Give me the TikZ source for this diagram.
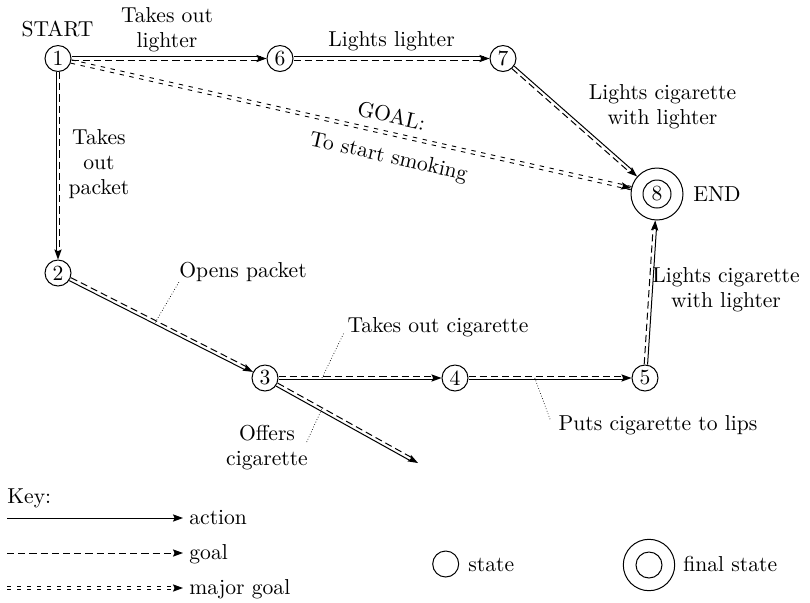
\documentclass[tikz,border=0pt]{standalone}
\usetikzlibrary{arrows.meta,calc}

\tikzset{
  state/.style={circle, draw, line width=0.5pt, minimum size=13pt, inner sep=0pt},
  lbl/.style={inner sep=0pt, align=center},
  actionln/.style={line width=0.5pt},
  goalln/.style={line width=0.5pt, dash pattern=on 3.6pt off 2pt},
  majorln/.style={line width=0.45pt, dash pattern=on 2.2pt off 2.8pt},
  tiponly/.style={-{Stealth[length=5pt,width=3.6pt,inset=0.8pt]}, line width=0.5pt,
                  dash pattern=on 0pt off 3000pt},
  keytip/.style={-{Stealth[length=5pt,width=3.6pt,inset=0.8pt]}},
  leader/.style={line width=0.35pt, densely dotted},
}

% action (solid) and goal (dashed) running side by side, one shared arrow tip;
% #3 = 90 puts the dashed line on the left of the direction of travel, -90 on the right
\newcommand\pairedge[3]{%
  \coordinate (pe-o) at ($(#1.center)!0.85pt!#3:(#2.center)$);
  \draw[actionln, shorten >=3pt, transform canvas={shift={($(#1.center)-(pe-o)$)}}] (#1) -- (#2);
  \draw[goalln, shorten >=3pt, transform canvas={shift={($(pe-o)-(#1.center)$)}}] (#1) -- (#2);
  \draw[tiponly] (#1) -- (#2);
}

\begin{document}
\begin{tikzpicture}[x=0.5pt, y=-0.5pt, font=\fontsize{10.8}{12.5}\selectfont]
\useasboundingbox (0,0) rectangle (810,602);

% states
\node[state] (n1) at (58,58.5) {1};
\node[state] (n6) at (280,58.5) {6};
\node[state] (n7) at (503,58.5) {7};
\node[state] (n2) at (58,273) {2};
\node[state] (n3) at (265,378) {3};
\node[state] (n4) at (455,378) {4};
\node[state] (n5) at (645,378) {5};
\node[circle, draw, line width=0.5pt, minimum size=26pt, inner sep=0pt] (n8) at (657,194) {};
\node[state, minimum size=14pt] (n8i) at (n8) {8};
\coordinate (co) at (418,463);

% labels
\node[lbl] (lstart) at (57.5,29) {START};
\node[lbl] (ltol) at (167,30) {Takes out\\lighter};
\node[lbl] (llight) at (391.5,41) {Lights lighter};
\node[lbl] (lcig1) at (662.5,107) {Lights cigarette\\with lighter};
\node[lbl] (lend) at (717,194) {END};
\node[lbl] (lpack) at (99,164) {Takes\\out\\packet};
\node[lbl] (lopen) at (243,272) {Opens packet};
\node[lbl] (ltakecig) at (438,327) {Takes out cigarette};
\node[lbl] (loffer) at (267,448) {Offers\\cigarette};
\node[lbl] (lputs) at (658,425) {Puts cigarette to lips};
\node[lbl] (lcig2) at (726,290) {Lights cigarette\\with lighter};

% transitions
\pairedge{n1}{n6}{-90}
\pairedge{n6}{n7}{-90}
\pairedge{n7}{n8}{-90}
\pairedge{n1}{n2}{90}
\pairedge{n2}{n3}{90}
\pairedge{n3}{n4}{90}
\pairedge{n4}{n5}{90}
\pairedge{n3}{co}{90}
\pairedge{n5}{n8}{90}

% major goal
\coordinate (mg-o) at ($(n1.center)!0.85pt!90:(n8.center)$);
\draw[majorln, transform canvas={shift={($(n1.center)-(mg-o)$)}}] (n1) -- (n8);
\draw[majorln, transform canvas={shift={($(mg-o)-(n1.center)$)}}] (n1) -- (n8);
\draw[tiponly] (n1) -- (n8)
  node[lbl, pos=0.565, sloped, anchor=south, yshift=4.8pt] (lgoal) {GOAL:}
  node[lbl, pos=0.576, sloped, anchor=north, yshift=-6.8pt] (lgoal2) {To start smoking};

% leader lines from labels to their transitions
\coordinate (p23) at ($(n2)!0.47!(n3)$);
\coordinate (p34) at ($(n3)!0.3!(n4)$);
\coordinate (p3o) at ($(n3)!0.37!(co)$);
\coordinate (p45) at ($(n4)!0.42!(n5)$);
\draw[leader] (p23) -- (lopen.south west);
\draw[leader] (p34) -- ($(ltakecig.south west)+(-3,-5)$);
\draw[leader] (p3o) -- ($(loffer.east)+(-2,-5)$);
\draw[leader] (p45) -- ($(lputs.north west)+(-8,5)$);

% key
\node[lbl, anchor=base west] (lkey) at (7,503) {Key:};
\coordinate (ka1) at (7,518);
\coordinate (ka2) at (183,518);
\draw[actionln, keytip] (ka1) -- (ka2);
\node[lbl, anchor=base west] (lact) at (189,524) {action};
\coordinate (kg1) at (7,553);
\coordinate (kg2) at (183,553);
\draw[goalln, keytip] (kg1) -- (kg2);
\node[lbl, anchor=base west] (lgl) at (189,559) {goal};
\coordinate (km1) at (7,588);
\coordinate (km2) at (183,588);
\draw[majorln, shorten >=3pt, transform canvas={yshift=0.85pt}] (km1) -- (km2);
\draw[majorln, shorten >=3pt, transform canvas={yshift=-0.85pt}] (km1) -- (km2);
\draw[tiponly] (km1) -- (km2);
\node[lbl, anchor=base west] (lmaj) at (189,594) {major goal};

\node[state] (ks) at (445.7,564) {};
\node[lbl, anchor=base west] (lks) at (468,571.5) {state};
\node[circle, draw, line width=0.5pt, minimum size=25.7pt, inner sep=0pt] (kf) at (649,565) {};
\node[state] (kfi) at (kf) {};
\node[lbl, anchor=base west] (lkf) at (683,571.5) {final state};
\end{tikzpicture}
\end{document}
